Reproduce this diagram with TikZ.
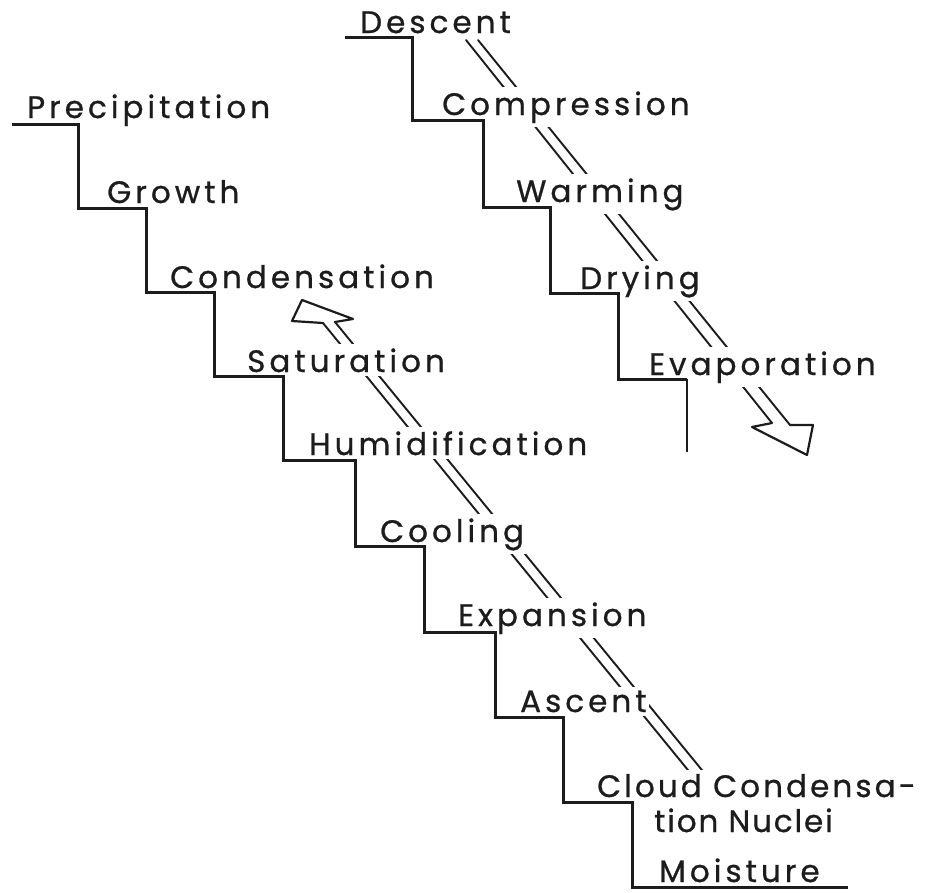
\documentclass[tikz,border=0pt]{standalone}
\usepackage{fontspec}
\setmainfont{Poppins}[LetterSpace=13,FakeBold=0.8]
\newfontfamily\cloudfont{Poppins}[LetterSpace=10,FakeBold=0.8]
\newfontfamily\nucleifont{Poppins}[LetterSpace=6,FakeBold=0.8]
\definecolor{ink}{HTML}{1C1C1C}
\begin{document}
\begin{tikzpicture}[x=1pt,y=-1pt,
  lab/.style={anchor=base west, inner xsep=2pt, inner ysep=4pt, fill=white, text=ink,
              font=\fontsize{31}{34}\selectfont},
  stair/.style={draw=ink, line width=3pt, line join=miter},
  thinstair/.style={draw=ink, line width=1.4pt},
  shaft/.style={draw=ink, line width=1.9pt, line cap=round},
  head/.style={draw=ink, line width=2.2pt, line join=round, line cap=round}]
\useasboundingbox[fill=white] (0,0) rectangle (925,892);

% ---- arrow shafts (drawn first, text interrupts them) ----
\coordinate (ua1) at (323,323); \coordinate (ua2) at (335,322);
\coordinate (ub1) at (692,775); \coordinate (ub2) at (706,775);
\coordinate (da1) at (466,40);  \coordinate (da2) at (478,40);
\coordinate (db1) at (772,423); \coordinate (db2) at (790,425);
\draw[shaft] (ua1) -- (ub1);
\draw[shaft] (ua2) -- (ub2);
\draw[shaft] (da1) -- (db1);
\draw[shaft] (da2) -- (db2);

% ---- labels: left staircase ----
\node[lab] (precip)  at (25,118)  {Precipitation};
\node[lab] (growth)  at (105,203) {Growth};
\node[lab] (cond)    at (168,288) {Condensation};
\node[lab] (sat)     at (245,372) {Saturation};
\node[lab] (humid)   at (307,455) {Humidification};
\node[lab] (cool)    at (378,542) {Cooling};
\node[lab] (expan)   at (456,626) {Expansion};
\node[lab] (ascent)  at (518,712) {Ascent};
\node[lab] (cloud)   at (595,797) {\cloudfont Cloud Condensa-};
\node[lab] (nuclei)  at (652,832) {\nucleifont tion Nuclei};
\node[lab] (moist)   at (657,882) {Moisture};

% ---- labels: right staircase ----
\node[lab] (descent) at (358,33)  {Descent};
\node[lab] (compr)   at (440,115) {Compression};
\node[lab] (warm)    at (514,202) {Warming};
\node[lab] (dry)     at (578,289) {Drying};
\node[lab] (evap)    at (647,375) {Evaporation};

% ---- arrow heads ----
\coordinate (uL) at (292,321); \coordinate (uT) at (302,300); \coordinate (uR) at (353,319);
\draw[head] (ua1) -- (uL) -- (uT) -- (uR) -- (ua2);
\coordinate (dL) at (752,427); \coordinate (dT) at (807,455); \coordinate (dR) at (813,425);
\draw[head] (db1) -- (dL) -- (dT) -- (dR) -- (db2);

% ---- staircases ----
\draw[stair] (12,124) -- (78,124) -- (78,208) -- (146,208) -- (146,292)
  -- (214,292) -- (214,376) -- (283,376) -- (283,460) -- (355,460)
  -- (355,546) -- (424,546) -- (424,632) -- (495,632) -- (495,717)
  -- (563,717) -- (563,802) -- (632,802) -- (632,887) -- (848,887);
\draw[stair] (345,37) -- (412,37) -- (412,120) -- (483,120) -- (483,207)
  -- (550,207) -- (550,293) -- (618,293) -- (618,379) -- (687,379);
\draw[thinstair] (687,379) -- (687,452);
\end{tikzpicture}
\end{document}
